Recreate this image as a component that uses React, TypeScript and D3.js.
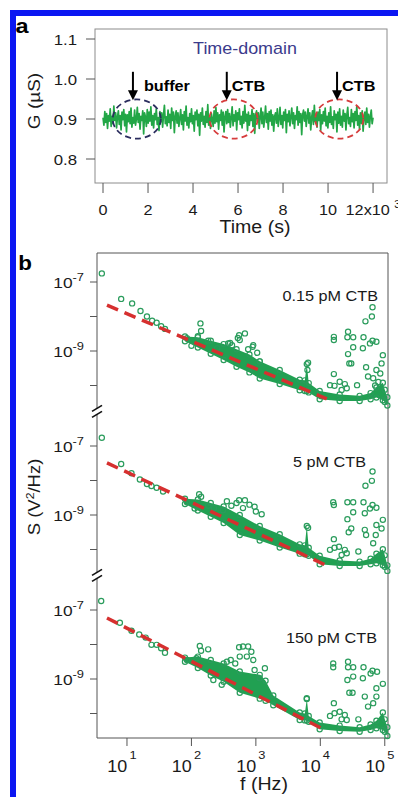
import { useEffect, useRef } from 'react';
import * as d3 from 'd3';

// ---- panel a: time-domain trace ----
const traceStart = 0;
const traceEnd = 12;
const traceBaseline = 0.9; // uS
const traceUnit = 0.0017; // uS per step of the numbers below
// deviation from baseline, in traceUnit steps
const traceNoise = [
  2, -9, 11, -5, 8, -14, 5, -3, 15, -11, 4, -7, 19, -2, 9, -13, 3, 12, -8, 5, -16, 10, -1, 14, -10,
  7, -19, 6, -4, 11, -7, 16, -12, 2, -6, 13, -9, 0, 17, -5, 8, -15, 4, -2, 12, -22, 9, 3, -11, 14,
  -6, 10, -3, 18, -9, 5, -13, 8, -1, 15, -8, 2, -17, 11, -4, 9, -12, 6, 20, -7, 3, -10, 13, -5, 7,
  -14, 16, -2, 10, -20, 4, 12, -6, 9, -11, 1, 14, -8, 6, -16, 11, -3, 19, -9, 2, -13, 8, -4, 15, -7,
  5, -18, 10, -1, 13, -10, 7, -24, 9, -3, 16, -8, 4, -12, 11, -5, 21, -9, 3, -14, 8, 0, -11, 12, -6,
  17, -4, 9, -15, 6, -2, 13, -9, 10, -19, 3, 11, -7, 14, -5, 8, -12, 2, 18, -10, 6, -3, 12, -16, 9,
  -1, 15, -8, 4, -13, 11, -6, 20, -3, 7, -17, 10, -9, 5, -2, 14, -11, 8, -21, 6, 12, -4, 9, -14, 3,
  16, -7, 10, -12, 2, 19, -5, 8, -15, 11, -3, 13, -9, 6, -18, 4, 9, -6, 15, -11, 1, 17, -8, 5, -13,
  10, -2, 14, -20, 7, -4, 12, -10, 3, 16, -7, 9, -14, 5, -1, 18, -9, 11, -5, 8, -23, 6, 13, -3, 10,
  -11, 4, 15, -6, 9, -16, 2, 12, -8, 20, -4, 7, -12, 10, -2, 14, -17, 6, -7, 11, -3, 16, -10, 4, -13,
  9, -5, 18, -8, 3, -14, 12, -1, 7, -19, 10, -6, 15, -9, 4, -12, 13, -3, 8, -16, 6, 17, -7, 2, -11,
  14, -4, 8, -13, 11, -2, 19, -9, 5, -15, 9, -6, 12, -18, 3, 10, -8, 16, -5, 7, -12, 4, 13, -7, 2,
];
const gTicks = [0.8, 0.9, 1.0, 1.1];
const gTickLabels = ['0.8', '0.9', '1.0', '1.1'];
const timeTicks = [0, 2, 4, 6, 8, 10, 12];
const timeTickLabels = ['0', '2', '4', '6', '8', '10', '12x10'];
const markerTimes = [1.5, 5.8, 10.5];
const markerArrowTimes = [1.33, 5.5, 10.4];
const markerLabels = ['buffer', 'CTB', 'CTB'];
const markerColors = ['#2b2d5e', '#d63c3c', '#d63c3c'];

// ---- panel b: noise spectra, [log10 f, log10 S] ----
const spectrumLabels = ['0.15 pM CTB', '5 pM CTB', '150 pM CTB'];

const points015 = [
  [0.61, -6.75], [0.91, -7.49], [1.08, -7.62], [1.21, -7.84], [1.31, -8.0], [1.39, -8.12], [1.46, -8.18], [1.53, -8.28], [1.59, -8.36],
  [1.93, -8.63], [2.14, -8.2], [2.15, -8.42], [2.1, -8.57], [2.26, -8.7], [2.0, -8.85], [2.74, -8.54], [2.57, -8.78], [2.63, -8.83],
  [2.4, -8.92], [2.6, -8.77], [2.72, -8.62], [2.83, -8.49], [2.96, -8.83], [2.75, -8.68], [2.95, -8.88], [3.02, -9.05], [3.06, -9.3], [2.88, -8.95],
  [3.81, -9.34], [3.8, -9.55],
  [4.81, -7.73], [4.7, -8.14], [4.8, -8.0], [4.21, -8.59], [4.21, -8.68], [4.43, -8.44], [4.42, -8.6], [4.51, -8.6], [4.67, -8.6],
  [4.81, -8.7], [4.87, -8.73], [4.77, -8.78], [4.51, -8.89], [4.43, -9.09], [4.66, -8.92], [4.45, -9.36], [4.48, -9.36], [4.71, -9.47],
  [4.97, -9.12], [4.95, -9.36], [4.87, -9.55], [4.82, -9.79], [4.74, -9.74], [4.21, -9.67], [4.15, -9.99], [4.22, -10.01], [4.3, -9.89],
  [4.38, -9.96], [4.41, -10.08], [4.33, -10.13], [4.57, -9.99], [4.9, -9.9], [4.85, -10.0], [4.93, -9.65],
];
const points5 = [
  [0.61, -6.76], [0.91, -7.52], [1.07, -7.79], [1.2, -7.97], [1.31, -8.1], [1.38, -8.16], [1.46, -8.21], [1.56, -8.32],
  [1.93, -8.63], [2.12, -8.4], [2.15, -8.47], [2.05, -8.81], [2.26, -8.73], [2.74, -8.57], [2.62, -8.73], [2.49, -8.86], [2.83, -8.57],
  [2.98, -8.76], [3.09, -8.98], [2.7, -8.65], [2.55, -8.6], [2.9, -8.7], [2.8, -8.8], [3.0, -8.9], [2.35, -8.8],
  [3.81, -9.37],
  [4.81, -7.74], [4.7, -8.15], [4.8, -8.01], [4.2, -8.63], [4.21, -8.71], [4.42, -8.63], [4.51, -8.63], [4.67, -8.63], [4.81, -8.71],
  [4.87, -8.79], [4.77, -8.81], [4.51, -8.92], [4.42, -9.12], [4.69, -8.95], [4.44, -9.5], [4.48, -9.39], [4.69, -9.43], [4.71, -9.58],
  [4.97, -9.14], [4.95, -9.39], [4.87, -9.29], [4.86, -9.58], [4.82, -9.82], [4.21, -9.7], [4.15, -10.01], [4.22, -9.95], [4.29, -9.92],
  [4.38, -10.01], [4.41, -10.11], [4.33, -10.16], [4.59, -10.06],
];
const points150 = [
  [0.6, -6.74], [0.89, -7.37], [1.07, -7.6], [1.19, -7.71], [1.29, -7.8], [1.38, -8.01], [1.46, -8.01], [1.53, -8.11], [1.59, -8.24],
  [1.93, -8.45], [2.13, -8.04], [2.15, -8.18], [2.26, -8.14], [2.08, -8.4], [2.74, -8.08], [2.75, -8.35], [2.61, -8.45], [2.55, -8.5],
  [2.47, -9.17], [2.34, -9.03], [2.8, -8.06], [2.88, -8.06], [2.93, -8.21], [2.96, -8.45], [2.86, -8.35], [3.14, -8.69], [2.98, -8.74],
  [3.06, -8.98], [2.68, -8.55],
  [3.79, -9.56],
  [4.2, -8.66], [4.2, -8.55], [4.43, -8.5], [4.43, -8.66], [4.51, -8.66], [4.67, -8.66], [4.81, -8.76], [4.88, -8.79], [4.78, -8.84],
  [4.51, -8.93], [4.66, -8.98], [4.97, -9.14], [4.42, -9.03], [4.45, -9.4], [4.5, -9.4], [4.69, -9.51], [4.87, -9.27], [4.87, -9.51],
  [4.82, -9.7], [4.74, -9.8], [4.21, -9.7], [4.15, -10.07], [4.22, -9.99], [4.3, -9.95], [4.38, -10.04], [4.41, -10.19], [4.33, -10.17],
  [4.59, -10.17],
];

// dense part of each spectrum: [log10 f, lower log10 S, upper log10 S]
const band015 = [
  [1.9, -8.72, -8.58], [2.1, -8.9, -8.6], [2.3, -9.08, -8.7], [2.5, -9.26, -8.8], [2.7, -9.46, -8.95],
  [2.9, -9.62, -9.1], [3.06, -9.8, -9.3], [3.37, -9.96, -9.55], [3.68, -10.14, -9.83], [3.76, -10.16, -9.85],
  [3.79, -10.16, -9.38], [3.82, -10.2, -9.93], [3.99, -10.4, -10.16], [4.3, -10.45, -10.26], [4.61, -10.45, -10.3],
  [4.78, -10.4, -10.22], [4.87, -10.35, -10.06], [4.97, -10.43, -9.92], [5.0, -10.48, -10.12], [5.04, -10.58, -10.34],
];
const band5 = [
  [1.9, -8.68, -8.53], [2.1, -8.87, -8.55], [2.3, -9.05, -8.65], [2.5, -9.23, -8.75], [2.75, -9.58, -9.0],
  [3.06, -9.74, -9.32], [3.37, -9.94, -9.56], [3.68, -10.12, -9.85], [3.76, -10.14, -9.88], [3.79, -10.14, -9.32],
  [3.82, -10.18, -9.95], [3.99, -10.43, -10.18], [4.3, -10.48, -10.32], [4.61, -10.48, -10.35], [4.78, -10.43, -10.27],
  [4.87, -10.4, -10.12], [4.97, -10.46, -9.99], [5.0, -10.5, -10.17], [5.04, -10.62, -10.46],
];
const band150 = [
  [1.9, -8.5, -8.38], [2.1, -8.68, -8.35], [2.3, -8.9, -8.45], [2.5, -9.08, -8.55], [2.75, -9.4, -8.78],
  [3.06, -9.57, -8.88], [3.15, -9.63, -9.05], [3.27, -9.76, -9.48], [3.68, -10.19, -9.97], [3.76, -10.2, -10.0],
  [3.79, -10.2, -9.58], [3.82, -10.24, -10.07], [3.99, -10.46, -10.26], [4.3, -10.51, -10.35], [4.61, -10.53, -10.4],
  [4.78, -10.48, -10.32], [4.87, -10.43, -10.21], [4.97, -10.48, -9.97], [5.0, -10.53, -10.17], [5.04, -10.65, -10.4],
];

// 1/f fits, endpoints [log10 f, log10 S]
const fit015 = [[0.69, -7.67], [4.1, -10.39]];
const fit5 = [[0.69, -7.49], [4.08, -10.45]];
const fit150 = [[0.69, -7.23], [4.07, -10.48]];

const freqTicks = [1, 2, 3, 4, 5];
const sTicks = [-7, -8, -9, -10];
const sTickLabels = ['-7', '', '-9', ''];

const FONT = 'Liberation Sans, Arial, Helvetica, sans-serif';
const SX = 1.12; // the figure text is a little wide

export default function App() {
  const svgRef = useRef<SVGSVGElement>(null);

  useEffect(() => {
    if (!svgRef.current) return;
    const svg = d3.select(svgRef.current);
    svg.selectAll('*').remove();

    const label = (x: number, y: number, size: number, anchor = 'middle', rotate = 0) =>
      svg.append('text')
        .attr('transform', `translate(${x},${y})${rotate ? ` rotate(${rotate})` : ''} scale(${SX},1)`)
        .attr('text-anchor', anchor)
        .attr('font-family', FONT)
        .attr('font-size', size)
        .attr('fill', '#1a1a1a');

    // blue page frame
    svg.append('rect').attr('x', 10).attr('y', 10).attr('width', 400).attr('height', 6).attr('fill', '#0b16f2');
    svg.append('rect').attr('x', 10).attr('y', 10).attr('width', 6).attr('height', 800).attr('fill', '#0b16f2');

    // ---------------- panel a ----------------
    const xA = d3.scaleLinear().domain([-0.356, 12.62]).range([95, 387]);
    const yA = d3.scaleLinear().domain([0.74, 1.125]).range([183, 29]);

    svg.append('rect')
      .attr('x', 95).attr('y', 29).attr('width', 292).attr('height', 154)
      .attr('fill', 'none').attr('stroke', '#8c8c8c').attr('stroke-width', 1);

    gTicks.forEach((v, i) => {
      svg.append('line').attr('x1', 86).attr('x2', 95).attr('y1', yA(v)).attr('y2', yA(v))
        .attr('stroke', '#555').attr('stroke-width', 1);
      label(77, yA(v) + 5.5, 15, 'end').text(gTickLabels[i]);
    });
    timeTicks.forEach((v, i) => {
      svg.append('line').attr('x1', xA(v)).attr('x2', xA(v)).attr('y1', 183).attr('y2', 193)
        .attr('stroke', '#555').attr('stroke-width', 1);
      const t = label(xA(v), 215, 14.5, 'middle');
      t.append('tspan').text(timeTickLabels[i]);
      if (i === timeTicks.length - 1) {
        t.append('tspan').attr('font-size', 10).attr('dx', 4).attr('dy', -7).text('3');
      }
    });
    label(255, 233, 17.5).text('Time (s)');
    label(40, 101, 17, 'middle', -90).text('G (\u00b5S)');
    label(22, 33, 21).attr('font-weight', 'bold').attr('fill', '#000').text('a');
    label(245, 53.5, 16).attr('fill', '#3b3b8c').text('Time-domain');

    const dt = (traceEnd - traceStart) / (traceNoise.length - 1);
    const trace = d3.line<number>()
      .x((_d, i) => xA(traceStart + i * dt))
      .y(d => yA(traceBaseline + d * traceUnit));
    svg.append('path')
      .attr('d', trace(traceNoise))
      .attr('fill', 'none')
      .attr('stroke', '#22a646')
      .attr('stroke-width', 1.7)
      .attr('stroke-linejoin', 'round');

    markerTimes.forEach((t, i) => {
      const cx = xA(t);
      svg.append('ellipse')
        .attr('cx', cx).attr('cy', yA(0.9))
        .attr('rx', xA(t + 1.07) - cx).attr('ry', yA(0.9) - yA(0.949))
        .attr('fill', 'none')
        .attr('stroke', markerColors[i])
        .attr('stroke-width', 1.8)
        .attr('stroke-dasharray', '6,4');
      const ax = xA(markerArrowTimes[i]);
      svg.append('line')
        .attr('x1', ax).attr('x2', ax).attr('y1', yA(1.018)).attr('y2', yA(0.965))
        .attr('stroke', '#000').attr('stroke-width', 2);
      const tip = yA(0.947);
      svg.append('path')
        .attr('d', `M${ax - 5},${tip - 10}L${ax + 5},${tip - 10}L${ax},${tip}Z`)
        .attr('fill', '#000');
      label(ax + (i === 0 ? 11 : 5), 91, 14.5, 'start').attr('font-weight', 'bold').attr('fill', '#000')
        .text(markerLabels[i]);
    });

    // ---------------- panel b ----------------
    const xB = d3.scaleLog().domain([10 ** 0.535, 10 ** 5.05]).range([97, 388]);
    const yB = (k: number) => d3.scaleLog().domain([1e-7, 1e-10]).range([282 + 164 * k, 385.5 + 164 * k]);

    const left = 97, right = 388, top = 253, bottom = 738;
    svg.append('path')
      .attr('d', `M${left},${top}H${right}V${bottom}H${left}`)
      .attr('fill', 'none').attr('stroke', '#555').attr('stroke-width', 1);

    // left axis with breaks
    const breaks = [0, 1].map(k => yB(k)(10 ** -10.75));
    const segs = [top, ...breaks.flatMap(b => [b - 3, b + 3]), bottom];
    for (let i = 0; i < segs.length; i += 2) {
      svg.append('line').attr('x1', left).attr('x2', left).attr('y1', segs[i]).attr('y2', segs[i + 1])
        .attr('stroke', '#555').attr('stroke-width', 1);
    }
    breaks.forEach(b => {
      [-3, 3].forEach(dy => {
        svg.append('line')
          .attr('x1', left - 5).attr('y1', b + dy + 3)
          .attr('x2', left + 5).attr('y2', b + dy - 3)
          .attr('stroke', '#111').attr('stroke-width', 1.7);
      });
    });

    freqTicks.forEach(p => {
      const x = xB(10 ** p);
      svg.append('line').attr('x1', x).attr('x2', x).attr('y1', bottom).attr('y2', bottom + 8)
        .attr('stroke', '#555').attr('stroke-width', 1);
      const t = label(x - 5, 772, 16, 'middle');
      t.append('tspan').text('10');
      t.append('tspan').attr('font-size', 11.5).attr('dx', 2).attr('dy', -13).text(String(p));
    });
    label(264, 790, 17.5).text('f (Hz)');
    label(40, 497, 16.5, 'middle', -90).call(t => {
      t.append('tspan').text('S (V');
      t.append('tspan').attr('font-size', 11).attr('dy', -6).text('2');
      t.append('tspan').attr('dy', 6).text('/Hz)');
    });
    label(25, 270, 20).attr('font-weight', 'bold').attr('fill', '#000').text('b');

    const spectra = [
      { points: points015, band: band015, fit: fit015 },
      { points: points5, band: band5, fit: fit5 },
      { points: points150, band: band150, fit: fit150 },
    ];
    const labelPos = [[378, 301], [366, 467], [377, 643]];

    spectra.forEach((sp, k) => {
      const y = yB(k);
      sTicks.forEach((p, i) => {
        const yy = y(10 ** p);
        svg.append('line').attr('x1', left - 7).attr('x2', left).attr('y1', yy).attr('y2', yy)
          .attr('stroke', '#555').attr('stroke-width', 1);
        if (sTickLabels[i]) {
          const t = label(84, yy + 6, 15.5, 'end');
          t.append('tspan').text('10');
          t.append('tspan').attr('font-size', 11.5).attr('dy', -7).text(sTickLabels[i]);
        }
      });

      const area = d3.area<number[]>()
        .x(d => xB(10 ** d[0]))
        .y0(d => y(10 ** d[1]))
        .y1(d => y(10 ** d[2]));
      svg.append('path')
        .attr('d', area(sp.band))
        .attr('fill', '#21a052');

      const edge = sp.band.flatMap(d => [[d[0], d[2]], [d[0], d[1]]]);
      svg.append('g').selectAll('circle')
        .data([...edge, ...sp.points])
        .join('circle')
        .attr('cx', d => xB(10 ** d[0]))
        .attr('cy', d => y(10 ** d[1]))
        .attr('r', 2.6)
        .attr('fill', 'none')
        .attr('stroke', '#2a9c5c')
        .attr('stroke-width', 1.2);

      const fitLine = d3.line<number[]>()
        .x(d => xB(10 ** d[0]))
        .y(d => y(10 ** d[1]));
      if (k > 0) {
        svg.append('path')
          .attr('d', fitLine(sp.fit))
          .attr('fill', 'none').attr('stroke', '#1b2a3a').attr('stroke-width', 1.5)
          .attr('stroke-dasharray', '0,250,60,400');
      }
      svg.append('path')
        .attr('d', fitLine(sp.fit))
        .attr('fill', 'none')
        .attr('stroke', '#d6302f')
        .attr('stroke-width', 3.5)
        .attr('stroke-dasharray', '12,7');

      label(labelPos[k][0], labelPos[k][1], 14.5, 'end').text(spectrumLabels[k]);
    });
  }, []);

  return (
    <div>
      <style>{'body{margin:0;background:#fff}'}</style>
      <svg ref={svgRef} width={398} height={797} style={{ display: 'block' }} />
    </div>
  );
}
